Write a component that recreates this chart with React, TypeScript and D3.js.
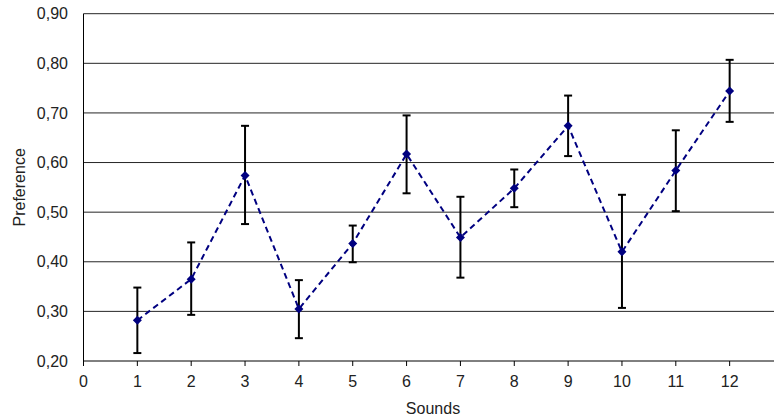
import React from "react";
import * as d3 from "d3";

const sounds = [1, 2, 3, 4, 5, 6, 7, 8, 9, 10, 11, 12];
const preference = [0.282, 0.365, 0.574, 0.305, 0.437, 0.617, 0.449, 0.548, 0.674, 0.42, 0.584, 0.744];
const errUpper = [0.348, 0.439, 0.674, 0.363, 0.473, 0.695, 0.531, 0.586, 0.735, 0.535, 0.665, 0.807];
const errLower = [0.216, 0.293, 0.476, 0.246, 0.399, 0.538, 0.368, 0.51, 0.613, 0.307, 0.502, 0.682];
const xTicks = [0, 1, 2, 3, 4, 5, 6, 7, 8, 9, 10, 11, 12];
const yTicks = [0.2, 0.3, 0.4, 0.5, 0.6, 0.7, 0.8, 0.9];

const W = 774;
const H = 419;

export default function App() {
  const x = d3.scaleLinear().domain([0, 13]).range([83.5, 783.5]);
  const y = d3.scaleLinear().domain([0.2, 0.9]).range([361, 13.7]);
  const fmt = (v: number) => v.toFixed(2).replace(".", ",");
  const line = d3
    .line<number>()
    .x((_, i) => x(sounds[i]))
    .y((d) => y(d));
  const font = "'Liberation Sans', Arial, sans-serif";
  const navy = "#000080";
  return (
    <svg
      width={W}
      height={H}
      style={{ position: "absolute", left: 0, top: 0, display: "block", background: "#fff" }}
      fontFamily={font}
    >
      {yTicks.map((t) => (
        <g key={t}>
          {t > 0.2 && (
            <line x1={x(0)} x2={W} y1={y(t)} y2={y(t)} stroke="#000" strokeWidth={1} opacity={0.85} />
          )}
          <text x={68} y={y(t)} dy="0.35em" textAnchor="end" fontSize={16} fill="#222">
            {fmt(t)}
          </text>
        </g>
      ))}
      <line x1={x(0)} x2={W} y1={y(0.2)} y2={y(0.2)} stroke="#000" strokeWidth={1} />
      <line x1={x(0)} x2={x(0)} y1={y(0.9)} y2={y(0.2)} stroke="#000" strokeWidth={1} />
      {xTicks.map((t) => (
        <g key={t}>
          <line x1={x(t)} x2={x(t)} y1={y(0.2)} y2={y(0.2) + 5} stroke="#000" strokeWidth={1} />
          <text x={x(t)} y={381} dy="0.35em" textAnchor="middle" fontSize={16} fill="#222">
            {t}
          </text>
        </g>
      ))}
      <path d={line(preference) || ""} fill="none" stroke={navy} strokeWidth={2} strokeDasharray="6,4" />
      {sounds.map((s, i) => (
        <g key={s} stroke="#000" strokeWidth={2}>
          <line x1={x(s)} x2={x(s)} y1={y(errUpper[i])} y2={y(errLower[i])} />
          <line x1={x(s) - 4} x2={x(s) + 4} y1={y(errUpper[i])} y2={y(errUpper[i])} />
          <line x1={x(s) - 4} x2={x(s) + 4} y1={y(errLower[i])} y2={y(errLower[i])} />
        </g>
      ))}
      {sounds.map((s, i) => {
        const cx = x(s);
        const cy = y(preference[i]);
        const r = 4.5;
        return (
          <path
            key={s}
            d={`M${cx},${cy - r}L${cx + r},${cy}L${cx},${cy + r}L${cx - r},${cy}Z`}
            fill={navy}
          />
        );
      })}
      <text x={433} y={408} dy="0.35em" textAnchor="middle" fontSize={16} fill="#222">
        Sounds
      </text>
      <text
        transform={`translate(19,${(y(0.9) + y(0.2)) / 2}) rotate(-90)`}
        dy="0.35em"
        textAnchor="middle"
        fontSize={16}
        fill="#222"
      >
        Preference
      </text>
    </svg>
  );
}
